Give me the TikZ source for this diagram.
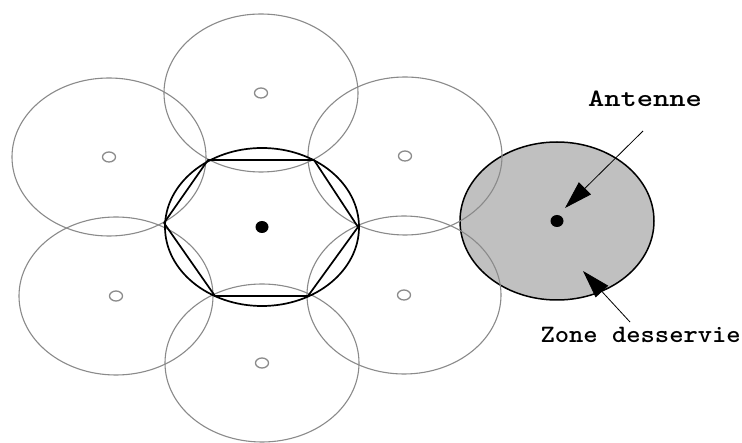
\documentclass[tikz,border=0pt]{standalone}
\usepackage{graphicx}
\usetikzlibrary{shapes.geometric,arrows.meta}
\definecolor{cellgray}{RGB}{138,138,138}
\definecolor{zonefill}{RGB}{192,192,192}
\begin{document}
\begin{tikzpicture}[x=1pt,y=-1pt,
  cell/.style={ellipse, draw=cellgray, line width=1.1pt, minimum width=194pt, minimum height=158pt, inner sep=0pt, outer sep=0pt},
  maincell/.style={ellipse, draw=black, line width=1.7pt, minimum width=194pt, minimum height=158pt, inner sep=0pt, outer sep=0pt},
  zonecell/.style={ellipse, draw=black, line width=1.5pt, fill=zonefill, minimum width=194pt, minimum height=158pt, inner sep=0pt, outer sep=0pt},
  hollow/.style={ellipse, draw=cellgray, line width=1.3pt, minimum width=13pt, minimum height=10pt, inner sep=0pt},
  antdot/.style={ellipse, fill=black, minimum width=13pt, minimum height=12pt, inner sep=0pt},
  lbl/.style={font=\ttfamily\bfseries\fontsize{25}{25}\selectfont, inner sep=0pt},
  arr/.style={line width=0.8pt, -{Triangle[length=28pt,width=17pt]}}]
\useasboundingbox (0,0) rectangle (742,443);
\fill[white] (0,0) rectangle (742,443);
% served zone (drawn first, gray arcs show through)
\node[zonecell] (zr) at (557,221) {};
% neighbouring cells
\node[cell] (ct) at (261,93) {};
\node[cell] (cb) at (262,363) {};
\node[cell] (cul) at (109,157) {};
\node[cell] (cur) at (405,156) {};
\node[cell] (cll) at (116,296) {};
\node[cell] (clr) at (404,295) {};
% central cell and hexagon
\node[maincell] (c0) at (262,227) {};
\draw[line width=1.7pt, line join=round, shift={(c0.center)}]
  (96,0) -- (52,-67) -- (-54,-67) -- (-98,-4) -- (-47,69) -- (46,69) -- cycle;
% antennas
\node[antdot] (a0) at (c0.center) {};
\node[antdot] (az) at (zr.center) {};
\node[hollow] (ht) at (ct.center) {};
\node[hollow] (hb) at (cb.center) {};
\node[hollow] (hul) at (cul.center) {};
\node[hollow] (hur) at (cur.center) {};
\node[hollow] (hll) at (cll.center) {};
\node[hollow] (hlr) at (clr.center) {};
% labels
\node[lbl, anchor=base] (ant) at (645,107) {\scalebox{1.24}[1]{Antenne}};
\node[lbl, anchor=base east] (zone) at (741,343) {\scalebox{1.09}[1]{Zone desservie}};
\coordinate (antStart) at (643,131);
\coordinate (antTip) at (565,208);
\coordinate (zoneStart) at (630,322);
\coordinate (zoneTip) at (583,271);
\draw[arr] (antStart) -- (antTip);
\draw[arr] (zoneStart) -- (zoneTip);
\end{tikzpicture}
\end{document}
